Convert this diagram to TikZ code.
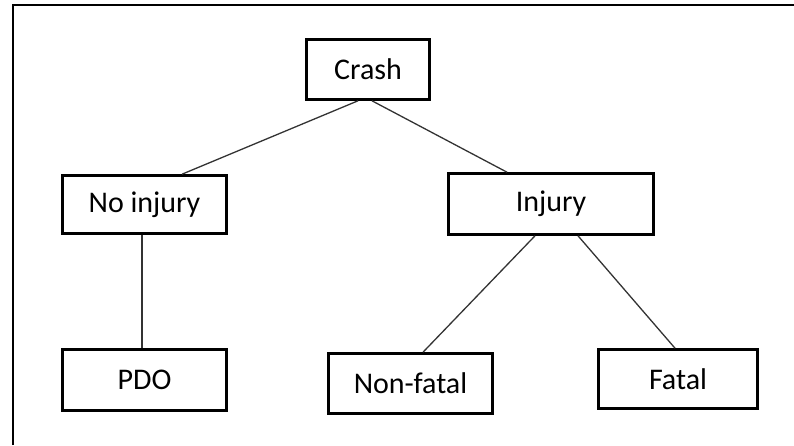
\documentclass[tikz,border=0pt]{standalone}
\usepackage{fontspec}
\setmainfont{Carlito}
\usetikzlibrary{positioning, calc}

\begin{document}
\begin{tikzpicture}[x=1pt, y=-1pt,
    catbox/.style={draw, line width=2.6pt, rectangle, inner sep=0pt,
      font=\fontsize{30}{36}\selectfont},
    link/.style={line width=1.3pt, draw=black!80}]
  \useasboundingbox (0,0) rectangle (794,445);

  % outer frame (cut off on the right and at the bottom)
  \draw[line width=2pt] (13,445) -- (13,5) -- (794,5);

  % categories
  \node[catbox, minimum width=123, minimum height=60] (crash) at (368,69.5) {Crash};
  \node[catbox, minimum width=164, minimum height=58] (noinj) at (144.5,204.5) {No injury};
  \node[catbox, minimum width=205, minimum height=61] (inj) at (551,204) {Injury};
  \node[catbox, minimum width=164, minimum height=61] (pdo) at (144.5,380) {PDO};
  \node[catbox, minimum width=164, minimum height=60] (nonfatal) at (410.5,383.5) {Non-fatal};
  \node[catbox, minimum width=159, minimum height=59] (fatal) at (678,379) {Fatal};

  % branches
  \draw[link] ([xshift=-10pt]crash.south) -- ([xshift=37.5pt]noinj.north);
  \draw[link] ([xshift=4pt]crash.south) -- ([xshift=-44pt]inj.north);
  \draw[link] ([xshift=-2.5pt]noinj.south) -- ([xshift=-2.5pt]pdo.north);
  \draw[link] ([xshift=-16pt]inj.south) -- ([xshift=12.5pt]nonfatal.north);
  \draw[link] ([xshift=27pt]inj.south) -- ([xshift=-3pt]fatal.north);
\end{tikzpicture}
\end{document}
